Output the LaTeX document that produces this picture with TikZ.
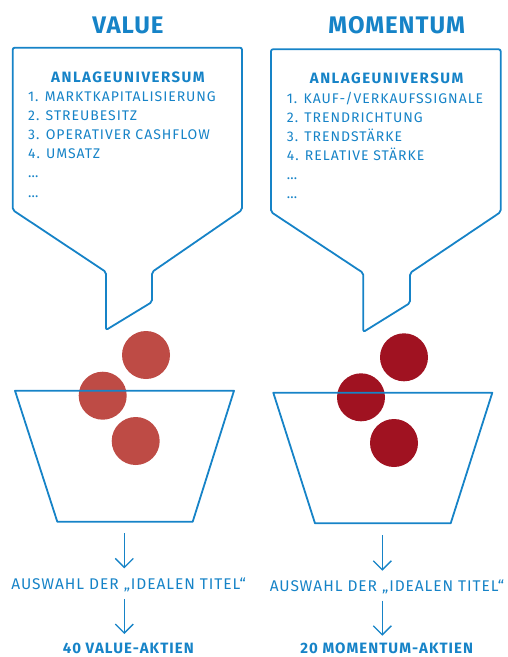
\documentclass[tikz,border=0pt]{standalone}
\usepackage{fontspec}
\setmainfont{Fira Sans}
\usetikzlibrary{arrows.meta}
\definecolor{fblue}{RGB}{22,131,199}
\definecolor{ballA}{RGB}{190,75,69}
\definecolor{ballB}{RGB}{160,18,33}
\tikzset{
  outline/.style={draw=fblue, line width=1.8pt, rounded corners=2pt, line join=round},
  ttl/.style={text=fblue, inner sep=0pt, anchor=base, font=\fontsize{24}{27}\selectfont\bfseries\addfontfeatures{LetterSpace=4}},
  hdr/.style={text=fblue, inner sep=0pt, anchor=base, font=\fontsize{15}{18}\selectfont\bfseries\addfontfeatures{LetterSpace=10}},
  item/.style={text=fblue, inner sep=0pt, anchor=base west, font=\fontsize{14}{17}\selectfont\addfontfeatures{LetterSpace=7}},
  sel/.style={text=fblue, inner sep=0pt, anchor=base, font=\fontsize{15.5}{18}\selectfont\addfontfeatures{LetterSpace=6}},
  res/.style={text=fblue, inner sep=0pt, anchor=base, font=\fontsize{15}{18}\selectfont\bfseries\addfontfeatures{LetterSpace=7}},
  flow/.style={draw=fblue, line width=1.3pt, -{Straight Barb[length=9pt,width=18pt,line width=1.3pt]}},
}
\begin{document}
\begin{tikzpicture}[x=1pt,y=-1pt]
\useasboundingbox (0,0) rectangle (507,657);
% ---------- VALUE ----------
\node[ttl] (vtitle) at (128,33.5) {VALUE};
\draw[outline] (12.7,47.7) -- (242,47.7) -- (242,210) -- (152,272) -- (152,302) -- (106,330) -- (106,272) -- (12.7,210) -- cycle;
\node[hdr] (vhdr) at (128,82.5) {ANLAGEUNIVERSUM};
\node[item] (v1) at (28,101) {1. MARKTKAPITALISIERUNG};
\node[item] (v2) at (28,120.2) {2. STREUBESITZ};
\node[item] (v3) at (28,139.4) {3. OPERATIVER CASHFLOW};
\node[item] (v4) at (28,158.6) {4. UMSATZ};
\node[item] (v5) at (28,177.8) {…};
\node[item] (v6) at (28,197) {…};
\fill[ballA] (146,355) circle (24);
\fill[ballA] (102.7,395.7) circle (24);
\fill[ballA] (135.7,441) circle (24);
\draw[draw=fblue, line width=1.8pt, line join=round] (15,390.7) -- (234,390.7) -- (192.7,521.7) -- (57.3,521.7) -- cycle;
\coordinate (va) at (124.3,533.3);
\node[sel] (vsel) at (128.7,589.5) {AUSWAHL DER „IDEALEN TITEL“};
\node[res] (vres) at (128.3,653) {40 VALUE-AKTIEN};
\draw[flow] (va) -- (124.3,568.3);
\draw[flow] (124.3,599) -- (124.3,634);
% ---------- MOMENTUM ----------
\node[ttl] (mtitle) at (396.7,33.5) {MOMENTUM};
\draw[outline] (271,49.3) -- (500.7,49.3) -- (500.7,212) -- (410,273) -- (410,303) -- (363.3,332) -- (363.3,273) -- (271,212) -- cycle;
\node[hdr] (mhdr) at (386.7,83.5) {ANLAGEUNIVERSUM};
\node[item] (m1) at (286.7,103) {1. KAUF-/VERKAUFSSIGNALE};
\node[item] (m2) at (286.7,122) {2. TRENDRICHTUNG};
\node[item] (m3) at (286.7,141) {3. TRENDSTÄRKE};
\node[item] (m4) at (286.7,160) {4. RELATIVE STÄRKE};
\node[item] (m5) at (286.7,179) {…};
\node[item] (m6) at (286.7,198) {…};
\fill[ballB] (404,357.3) circle (24);
\fill[ballB] (361,397.3) circle (24);
\fill[ballB] (394,443) circle (24);
\draw[draw=fblue, line width=1.8pt, line join=round] (273.3,392.7) -- (492.3,392.7) -- (450.7,523.3) -- (315,523.3) -- cycle;
\coordinate (ma) at (382.3,535);
\node[sel] (msel) at (387,591) {AUSWAHL DER „IDEALEN TITEL“};
\node[res] (mres) at (386.7,653.5) {20 MOMENTUM-AKTIEN};
\draw[flow] (ma) -- (382.3,570.7);
\draw[flow] (382.3,600.7) -- (382.3,635.7);
\end{tikzpicture}
\end{document}
